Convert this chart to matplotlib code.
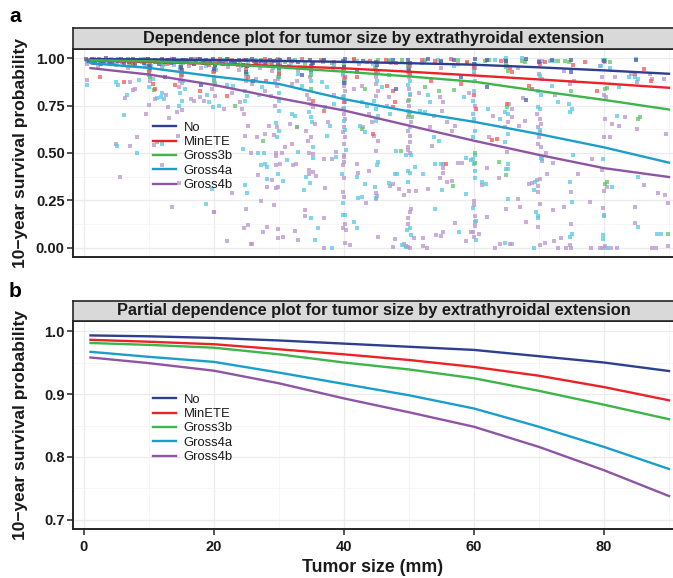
import matplotlib
matplotlib.use('Agg')
import matplotlib.pyplot as plt
from matplotlib.ticker import FixedLocator

plt.rcParams['font.family'] = ['Liberation Sans', 'DejaVu Sans']

# ---------------- data ----------------
groups = ['No', 'MinETE', 'Gross3b', 'Gross4a', 'Gross4b']
line_colors = ['#2e3f8f', '#ec2227', '#3db54a', '#1b9fca', '#8e55a3']
point_colors = ['#4a5fb0', '#f25a58', '#62c46a', '#58c9e3', '#b994cf']

size_grid = [1, 10, 20, 30, 40, 50, 60, 70, 80, 90]

# panel a: fitted dependence curves
dep_no = [0.997, 0.995, 0.992, 0.987, 0.982, 0.975, 0.967, 0.953, 0.937, 0.919]
dep_min = [0.990, 0.982, 0.972, 0.960, 0.948, 0.930, 0.910, 0.889, 0.868, 0.845]
dep_g3b = [0.990, 0.985, 0.972, 0.953, 0.930, 0.905, 0.877, 0.828, 0.781, 0.730]
dep_g4a = [0.975, 0.950, 0.905, 0.865, 0.785, 0.720, 0.665, 0.600, 0.530, 0.449]
dep_g4b = [0.949, 0.915, 0.860, 0.790, 0.725, 0.645, 0.565, 0.490, 0.420, 0.373]

# panel b: partial dependence curves
pdp_no = [0.993, 0.9916, 0.989, 0.985, 0.980, 0.975, 0.970, 0.960, 0.950, 0.9365]
pdp_min = [0.986, 0.983, 0.979, 0.971, 0.963, 0.954, 0.943, 0.929, 0.911, 0.890]
pdp_g3b = [0.981, 0.978, 0.9735, 0.963, 0.950, 0.939, 0.925, 0.905, 0.883, 0.860]
pdp_g4a = [0.967, 0.959, 0.951, 0.934, 0.916, 0.898, 0.877, 0.848, 0.816, 0.781]
pdp_g4b = [0.958, 0.949, 0.937, 0.917, 0.893, 0.871, 0.848, 0.816, 0.779, 0.738]

# panel a: individual patient predictions (tumor size, survival probability)
pts_no = [
    (0.3, 0.995), (0.8, 0.985), (1.2, 0.998), (1.7, 0.978), (2.1, 0.992), (2.6, 0.97), (3.0, 0.988),
    (3.4, 1.0), (3.9, 0.982), (4.3, 0.975), (4.8, 0.994), (5.2, 0.986), (5.7, 0.999), (6.1, 0.972),
    (6.6, 0.99), (7.0, 0.98), (7.5, 0.996), (7.9, 0.968), (8.4, 0.987), (8.8, 0.993), (9.3, 0.976),
    (9.8, 0.999), (10.0, 0.962), (10.1, 0.95), (10.2, 0.985), (11.0, 0.99), (11.5, 0.972), (12.0, 0.997),
    (12.4, 0.983), (12.9, 0.992), (13.4, 0.974), (13.8, 0.998), (14.3, 0.986), (14.8, 0.979), (15.0, 0.955),
    (15.1, 0.94), (15.2, 0.992), (15.9, 0.988), (16.4, 0.996), (16.9, 0.971), (17.3, 0.984), (17.8, 0.999),
    (18.3, 0.977), (18.8, 0.99), (19.4, 0.983), (19.9, 0.995), (20.0, 0.945), (20.1, 0.965), (20.8, 0.988),
    (21.4, 0.973), (22.0, 0.996), (22.6, 0.985), (23.2, 0.979), (23.8, 0.993), (24.4, 0.968), (24.9, 0.99),
    (25.0, 0.93), (25.1, 0.96), (25.8, 0.997), (26.5, 0.981), (27.2, 0.989), (27.9, 0.975), (28.6, 0.994),
    (29.3, 0.986), (29.9, 0.972), (30.0, 0.95), (30.1, 0.99), (31.5, 0.998), (33.0, 0.98), (34.8, 0.992),
    (35.0, 0.96), (35.2, 0.975), (37.0, 0.99), (39.8, 0.985), (40.0, 0.955), (40.2, 0.997), (43.0, 0.988),
    (45.0, 0.98), (45.1, 0.965), (47.5, 0.993), (49.9, 0.99), (50.0, 0.94), (50.1, 0.975), (53.0, 0.998),
    (55.0, 0.985), (57.0, 0.99), (60.0, 0.97), (60.1, 0.995), (62.0, 0.99), (65.0, 0.985), (68.0, 0.995),
    (70.0, 0.98), (72.0, 0.99), (75.0, 0.992), (80.0, 0.985), (85.0, 0.99),
    (12.5, 0.90), (18.0, 0.86), (26.0, 0.88), (33.5, 0.91), (40.0, 0.87), (42.0, 0.93), (48.0, 0.84),
    (58.0, 0.90), (62.0, 0.85), (68.0, 0.78), (75.0, 0.93),
]
pts_min = [
    (0.5, 0.99), (1.4, 0.975), (2.3, 0.996), (3.1, 0.984), (4.0, 0.969), (4.9, 0.993), (5.8, 0.98),
    (6.7, 0.998), (7.6, 0.973), (8.5, 0.988), (9.4, 0.995), (10.0, 0.93), (10.1, 0.965), (10.9, 0.982),
    (11.8, 0.992), (12.7, 0.97), (13.6, 0.997), (14.5, 0.979), (15.0, 0.948), (15.1, 0.91), (15.7, 0.99),
    (16.6, 0.974), (17.5, 0.995), (18.4, 0.983), (19.3, 0.966), (20.0, 0.935), (20.1, 0.985), (21.0, 0.997),
    (21.9, 0.977), (22.8, 0.99), (23.7, 0.968), (24.6, 0.994), (25.0, 0.945), (25.2, 0.90), (26.1, 0.985),
    (27.0, 0.973), (27.9, 0.998), (28.8, 0.982), (29.7, 0.99), (30.0, 0.92), (30.2, 0.96), (32.0, 0.985),
    (33.5, 0.995), (35.0, 0.94), (35.1, 0.975), (36.5, 0.99), (38.5, 0.982), (40.0, 0.95), (40.1, 0.90),
    (41.5, 0.995), (44.0, 0.985), (45.0, 0.93), (46.5, 0.99), (48.0, 0.975), (50.0, 0.96), (50.2, 0.92),
    (52.0, 0.99), (54.0, 0.985), (56.5, 0.995), (59.0, 0.98), (60.0, 0.95), (64.2, 0.988), (65.6, 0.949),
    (65.8, 0.926), (70.2, 0.970), (70.9, 0.979), (75.3, 0.967), (77.1, 0.979), (84.8, 0.917), (86.1, 0.944),
    (87.2, 0.88),
    (6.1, 0.874), (10.6, 0.864), (11.0, 0.841), (17.8, 0.826), (35.2, 0.776), (40.0, 0.768), (42.0, 0.900),
    (46.6, 0.856), (47.6, 0.826), (47.9, 0.768), (47.6, 0.741), (53.4, 0.882), (58.0, 0.864), (55.7, 0.44),
    (60.3, 0.732), (60.0, 0.809), (62.8, 0.569), (63.5, 0.574), (68.4, 0.856), (68.9, 0.838), (65.1, 0.76),
    (78.9, 0.826), (37.0, 0.72), (44.5, 0.60), (22.0, 0.80), (28.0, 0.88), (14.0, 0.86), (2.5, 0.90),
]
pts_g3b = [
    (0.7, 0.988), (1.6, 0.996), (2.5, 0.978), (3.4, 0.99), (4.4, 0.972), (5.3, 0.997), (6.2, 0.984),
    (7.1, 0.967), (8.0, 0.992), (9.0, 0.98), (9.9, 0.995), (10.0, 0.94), (10.2, 0.90), (11.3, 0.986),
    (12.2, 0.97), (13.1, 0.994), (14.0, 0.98), (14.9, 0.96), (15.0, 0.92), (15.3, 0.99), (16.2, 0.976),
    (17.1, 0.998), (18.0, 0.985), (18.9, 0.97), (19.8, 0.992), (20.0, 0.93), (20.2, 0.95), (21.3, 0.982),
    (22.2, 0.996), (23.1, 0.974), (24.0, 0.988), (24.9, 0.965), (25.0, 0.92), (25.3, 0.99), (26.3, 0.978),
    (27.2, 0.994), (28.1, 0.984), (29.0, 0.97), (29.9, 0.995), (30.0, 0.93), (31.0, 0.982), (32.5, 0.99),
    (34.0, 0.972), (34.9, 0.95), (35.0, 0.91), (36.8, 0.988), (38.2, 0.975), (39.9, 0.94), (40.0, 0.97),
    (41.5, 0.99), (43.5, 0.98), (45.0, 0.95), (45.2, 0.99), (47.0, 0.985), (49.0, 0.992), (49.9, 0.96),
    (50.0, 0.93), (52.5, 0.99), (55.0, 0.98), (57.5, 0.993), (59.0, 0.975), (60.0, 0.96), (61.7, 0.988),
    (62.3, 0.991), (65.0, 0.988), (65.0, 0.970), (64.9, 0.953), (65.3, 0.935), (67.4, 0.988), (67.9, 0.979),
    (72.9, 0.985), (74.0, 0.984), (74.6, 0.98), (80.1, 0.99), (81.0, 0.98),
    (10.7, 0.832), (23.2, 0.750), (27.6, 0.565), (32.8, 0.636), (43.3, 0.838), (42.8, 0.629), (50.0, 0.78),
    (50.0, 0.70), (50.4, 0.69), (52.5, 0.850), (54.6, 0.826), (56.9, 0.832), (56.7, 0.325), (48.7, 0.510),
    (60.2, 0.449), (60.2, 0.498), (63.9, 0.454), (64.9, 0.382), (65.1, 0.741), (74.9, 0.83), (80.2, 0.838),
    (80.5, 0.843), (80.1, 0.338), (80.4, 0.347), (85.3, 0.680), (85.6, 0.688), (89.9, 0.070), (35.0, 0.84),
    (20.0, 0.88), (30.0, 0.90), (40.0, 0.88), (47.0, 0.91),
]
pts_g4a = [
    (0.5, 0.98), (1.5, 0.992), (2.4, 0.97), (3.3, 0.986), (4.2, 0.996), (5.1, 0.975), (6.0, 0.99),
    (6.9, 0.96), (7.8, 0.984), (8.7, 0.995), (9.6, 0.972), (10.0, 0.92), (10.1, 0.90), (10.3, 0.96),
    (11.2, 0.988), (12.1, 0.965), (13.0, 0.992), (13.9, 0.978), (14.8, 0.955), (15.0, 0.91), (15.2, 0.88),
    (16.0, 0.985), (16.9, 0.97), (17.8, 0.993), (18.7, 0.96), (19.6, 0.98), (20.0, 0.90), (20.1, 0.87),
    (20.3, 0.94), (21.4, 0.99), (22.3, 0.972), (23.2, 0.985), (24.1, 0.958), (25.0, 0.89), (25.1, 0.92),
    (25.3, 0.975), (26.4, 0.99), (27.3, 0.966), (28.2, 0.982), (29.1, 0.95), (29.9, 0.90), (30.0, 0.93),
    (30.2, 0.99), (31.8, 0.975), (33.2, 0.955), (34.9, 0.93), (35.0, 0.88), (35.1, 0.97), (37.0, 0.99),
    (38.5, 0.96), (39.9, 0.92), (40.0, 0.95), (40.1, 0.89), (42.0, 0.985), (44.5, 0.97), (45.0, 0.92),
    (45.1, 0.88), (47.0, 0.99), (49.9, 0.95), (50.0, 0.91), (50.1, 0.88), (52.0, 0.975), (54.5, 0.99),
    (57.0, 0.96), (60.0, 0.93), (60.1, 0.97), (63.2, 0.99), (64.8, 0.99), (65.1, 0.96), (65.0, 1.0),
    (67.4, 1.0), (71.7, 0.984), (72.3, 0.988), (79.9, 0.99), (85.0, 0.996),
    (0.5, 0.861), (5.0, 0.874), (5.3, 0.861), (6.6, 0.809), (8.5, 0.885), (10.0, 0.850), (10.6, 0.891),
    (12.0, 0.817), (12.3, 0.785), (11.3, 0.79), (11.8, 0.795), (14.8, 0.817), (15.1, 0.773), (14.6, 0.747),
    (15.6, 0.838), (18.9, 0.809), (19.2, 0.768), (19.9, 0.741), (20.7, 0.750), (22.0, 0.861), (23.0, 0.856),
    (24.8, 0.826), (25.1, 0.803), (24.7, 0.776), (26.9, 0.809), (27.4, 0.847), (30.0, 0.817), (30.0, 0.773),
    (30.0, 0.720), (29.5, 0.658), (30.0, 0.617), (29.7, 0.583), (32.0, 0.706), (32.5, 0.697), (33.0, 0.917),
    (33.5, 0.856), (34.6, 0.715), (34.9, 0.688), (35.1, 0.662), (35.3, 0.530), (36.6, 0.874), (37.4, 0.847),
    (37.1, 0.741), (38.4, 0.759), (37.9, 0.644), (37.4, 0.591), (40.0, 0.80), (40.0, 0.74), (40.0, 0.67),
    (40.2, 0.62), (42.8, 0.768), (43.5, 0.750), (42.5, 0.644), (43.3, 0.609), (44.6, 0.776), (44.9, 0.732),
    (45.2, 0.697), (45.0, 0.671), (45.8, 0.847), (47.1, 0.706), (49.8, 0.86), (50.2, 0.81), (49.9, 0.72),
    (50.1, 0.64), (53.0, 0.809), (53.3, 0.768), (51.7, 0.720), (52.5, 0.715), (53.8, 0.583), (54.6, 0.565),
    (58.4, 0.794), (60.0, 0.680), (59.8, 0.706), (60.1, 0.618), (59.9, 0.583), (60.2, 0.882), (60.0, 0.826),
    (59.8, 0.776), (62.2, 0.732), (64.8, 0.715), (65.3, 0.706), (65.3, 0.600), (64.8, 0.556), (64.0, 0.680),
    (70.5, 0.891), (70.2, 0.909), (69.9, 0.826), (70.3, 0.809), (69.9, 0.741), (70.2, 0.732), (70.1, 0.62),
    (72.0, 0.856), (72.9, 0.768), (74.6, 0.759), (75.1, 0.732), (74.8, 0.715), (82.3, 0.850), (82.0, 0.697),
    (83.8, 0.904), (84.7, 0.900), (85.3, 0.891), (80.0, 0.99), (79.5, 0.96), (81.0, 0.95),
    (8.2, 0.498), (19.7, 0.308), (18.8, 0.232), (24.7, 0.331), (25.1, 0.290), (26.7, 0.498), (27.7, 0.498),
    (27.8, 0.440), (27.3, 0.436), (28.2, 0.428), (28.2, 0.361), (32.9, 0.505), (35.2, 0.472), (38.7, 0.479),
    (40.3, 0.516), (48.0, 0.510), (49.6, 0.488), (50.3, 0.488), (31.3, 0.463), (29.9, 0.387), (30.6, 0.352),
    (34.2, 0.373), (34.8, 0.343), (33.9, 0.304), (39.7, 0.387), (42.0, 0.371), (45.1, 0.436), (45.2, 0.454),
    (43.3, 0.338), (44.7, 0.320), (39.8, 0.234), (42.2, 0.260), (42.8, 0.267), (45.0, 0.26), (47.0, 0.340),
    (47.9, 0.391), (48.1, 0.391), (49.8, 0.347), (49.8, 0.405), (50.1, 0.396), (50.9, 0.428), (52.1, 0.387),
    (54.0, 0.440), (55.0, 0.44), (55.2, 0.44), (55.1, 0.303), (59.6, 0.463), (58.8, 0.472), (58.8, 0.282),
    (34.9, 0.155), (39.8, 0.172), (40.1, 0.172), (41.6, 0.137), (42.0, 0.106), (36.0, 0.106), (35.6, 0.039),
    (38.1, 0.0), (49.0, 0.014), (49.5, 0.005), (49.7, 0.091), (50.1, 0.102), (50.3, 0.065), (54.0, 0.206),
    (57.7, 0.082), (65.3, 0.440), (65.0, 0.414), (65.3, 0.414), (60.2, 0.405), (60.2, 0.370), (60.0, 0.440),
    (60.2, 0.488), (59.8, 0.466), (61.2, 0.349), (61.8, 0.338), (69.4, 0.349), (69.2, 0.303), (70.3, 0.475),
    (70.4, 0.466), (75.2, 0.488), (74.8, 0.349), (79.8, 0.466), (81.2, 0.320), (85.2, 0.375), (59.9, 0.208),
    (60.3, 0.14), (65.3, 0.255), (69.6, 0.188), (69.8, 0.167), (69.9, 0.158), (75.1, 0.241), (80.0, 0.167),
    (85.2, 0.111), (88.2, 0.070), (88.8, 0.070), (60.3, 0.040), (64.7, 0.026), (69.3, 0.0), (74.8, 0.058),
    (75.1, 0.070), (80.4, 0.0), (79.9, 0.065), (79.8, 0.044), (5.1, 0.539), (12.0, 0.55), (24.5, 0.52),
    (6.2, 0.699),
]
pts_g4b = [
    (0.4, 0.97), (1.3, 0.99), (2.2, 0.96), (3.1, 0.982), (4.0, 0.994), (4.9, 0.965), (5.8, 0.985),
    (6.7, 0.95), (7.6, 0.975), (8.5, 0.99), (9.4, 0.958), (10.0, 0.91), (10.1, 0.88), (10.2, 0.94),
    (11.1, 0.98), (12.0, 0.955), (12.9, 0.99), (13.8, 0.968), (14.7, 0.945), (15.0, 0.90), (15.1, 0.87),
    (15.3, 0.975), (16.2, 0.96), (17.1, 0.985), (18.0, 0.95), (18.9, 0.972), (19.8, 0.93), (20.0, 0.89),
    (20.1, 0.86), (20.2, 0.96), (21.2, 0.98), (22.1, 0.955), (23.0, 0.975), (23.9, 0.94), (24.9, 0.88),
    (25.0, 0.91), (25.1, 0.96), (26.2, 0.985), (27.1, 0.95), (28.0, 0.97), (28.9, 0.935), (29.9, 0.89),
    (30.0, 0.92), (30.1, 0.975), (31.6, 0.96), (33.0, 0.94), (34.8, 0.90), (35.0, 0.93), (35.1, 0.96),
    (36.7, 0.98), (38.3, 0.95), (39.9, 0.91), (40.0, 0.94), (40.2, 0.87), (42.3, 0.97), (44.8, 0.95),
    (45.0, 0.90), (45.2, 0.93), (47.2, 0.975), (49.8, 0.93), (50.0, 0.90), (50.2, 0.96), (52.3, 0.98),
    (55.0, 0.95), (57.5, 0.97), (60.0, 0.92), (60.2, 0.95), (66.8, 0.95), (70.0, 0.985), (70.5, 0.985),
    (73.8, 0.932), (79.4, 0.961), (80.1, 0.979),
    (0.5, 0.887), (6.3, 0.791), (7.1, 0.874), (7.9, 0.838), (7.6, 0.832), (9.95, 0.756), (10.9, 0.785),
    (12.6, 0.806), (13.0, 0.741), (14.8, 0.882), (14.6, 0.850), (14.3, 0.715), (15.1, 0.727), (16.5, 0.785),
    (16.9, 0.776), (17.9, 0.794), (18.4, 0.776), (19.7, 0.838), (20.2, 0.803), (21.5, 0.732), (22.8, 0.817),
    (24.0, 0.768), (24.3, 0.732), (24.6, 0.706), (25.8, 0.864), (26.4, 0.891), (27.9, 0.826), (28.7, 0.803),
    (25.3, 0.644), (24.8, 0.591), (27.9, 0.600), (28.4, 0.644), (26.6, 0.583), (8.2, 0.586), (7.1, 0.539),
    (11.2, 0.56), (10.7, 0.54), (14.5, 0.591), (29.4, 0.882), (29.7, 0.856), (29.4, 0.750), (29.7, 0.636),
    (29.2, 0.597), (31.0, 0.533), (32.0, 0.547), (31.7, 0.653), (32.8, 0.636), (32.0, 0.864), (32.8, 0.882),
    (34.3, 0.809), (34.6, 0.785), (35.0, 0.759), (35.3, 0.741), (35.5, 0.653), (34.2, 0.618), (34.9, 0.586),
    (34.4, 0.565), (38.4, 0.809), (37.6, 0.662), (40.0, 0.891), (40.0, 0.856), (40.2, 0.826), (39.9, 0.794),
    (40.1, 0.768), (39.8, 0.732), (40.0, 0.706), (40.1, 0.680), (40.0, 0.636), (39.8, 0.609), (40.2, 0.583),
    (40.0, 0.547), (41.5, 0.838), (42.7, 0.856), (43.8, 0.706), (44.3, 0.662), (43.0, 0.636), (45.0, 0.864),
    (45.3, 0.826), (44.9, 0.803), (44.6, 0.591), (45.3, 0.565), (46.9, 0.794), (46.6, 0.750), (50.0, 0.838),
    (50.1, 0.809), (49.9, 0.776), (50.0, 0.750), (50.2, 0.715), (49.9, 0.688), (50.3, 0.662), (49.8, 0.618),
    (50.1, 0.591), (50.2, 0.559), (49.9, 0.530), (51.5, 0.817), (53.8, 0.697), (53.3, 0.636), (53.5, 0.539),
    (54.8, 0.794), (55.3, 0.768), (55.1, 0.720), (55.8, 0.662), (56.6, 0.618), (57.1, 0.644), (59.2, 0.817),
    (60.1, 0.75), (62.3, 0.583), (63.0, 0.697), (65.8, 0.688), (65.8, 0.732), (65.4, 0.759), (64.8, 0.636),
    (65.3, 0.662), (67.9, 0.671), (66.9, 0.644), (67.5, 0.791), (70.0, 0.92), (69.7, 0.706), (70.1, 0.680),
    (70.3, 0.653), (69.9, 0.636), (70.2, 0.609), (70.0, 0.583), (69.9, 0.547), (70.3, 0.530), (72.5, 0.809),
    (74.8, 0.864), (75.4, 0.88), (79.7, 0.900), (80.0, 0.809), (80.3, 0.794), (80.2, 0.680), (81.2, 0.653),
    (82.3, 0.644), (81.0, 0.583), (80.0, 0.583), (81.7, 0.900), (84.1, 0.917), (85.1, 0.874), (83.3, 0.688),
    (85.1, 0.627), (87.4, 0.891), (87.1, 0.917), (89.2, 0.891), (89.5, 0.60), (9.5, 0.704), (13.1, 0.687),
    (12.0, 0.436), (5.6, 0.375), (14.6, 0.343), (13.5, 0.214), (20.0, 0.188), (22.7, 0.290), (25.7, 0.498),
    (26.7, 0.384), (28.1, 0.320), (27.3, 0.246), (25.0, 0.202), (24.6, 0.102), (25.3, 0.118), (28.1, 0.111),
    (27.6, 0.082), (22.0, 0.035), (25.9, 0.017), (29.5, 0.502), (30.4, 0.502), (34.6, 0.50), (35.2, 0.494),
    (38.8, 0.505), (40.0, 0.489), (40.0, 0.481), (44.9, 0.512), (49.9, 0.516), (50.1, 0.498), (29.5, 0.484),
    (30.1, 0.440), (29.6, 0.436), (32.1, 0.436), (32.6, 0.444), (36.9, 0.466), (38.2, 0.466), (40.0, 0.452),
    (39.8, 0.436), (34.6, 0.410), (34.6, 0.391), (35.2, 0.399), (29.0, 0.356), (35.7, 0.378), (29.8, 0.322),
    (29.5, 0.317), (37.1, 0.317), (40.0, 0.366), (42.2, 0.392), (43.8, 0.405), (42.0, 0.444), (39.8, 0.294),
    (40.0, 0.269), (43.4, 0.234), (45.0, 0.287), (45.1, 0.273), (45.0, 0.255), (47.1, 0.325), (47.6, 0.334),
    (48.4, 0.308), (49.2, 0.278), (50.0, 0.299), (51.1, 0.299), (53.0, 0.312), (55.2, 0.419), (55.2, 0.392),
    (54.8, 0.366), (55.8, 0.349), (56.6, 0.352), (57.6, 0.449), (58.2, 0.449), (29.2, 0.225), (34.0, 0.199),
    (34.0, 0.167), (36.9, 0.155), (40.1, 0.123), (39.8, 0.106), (40.3, 0.093), (29.8, 0.097), (29.8, 0.048),
    (30.6, 0.058), (32.4, 0.090), (32.9, 0.039), (37.0, 0.0), (40.1, 0.026), (40.9, 0.014), (45.2, 0.056),
    (47.5, 0.005), (47.9, 0.044), (49.2, 0.02), (49.5, 0.01), (49.9, 0.003), (50.1, 0.0), (49.9, 0.155),
    (49.8, 0.123), (50.1, 0.190), (50.3, 0.206), (50.7, 0.053), (52.2, 0.048), (52.2, 0.008), (52.8, 0.0),
    (54.2, 0.065), (55.0, 0.061), (55.3, 0.082), (57.1, 0.132), (58.8, 0.035), (59.5, 0.082), (63.9, 0.370),
    (65.1, 0.505), (62.0, 0.419), (61.2, 0.329), (68.5, 0.338), (68.9, 0.343), (69.7, 0.357), (70.1, 0.364),
    (69.9, 0.325), (69.8, 0.296), (71.1, 0.502), (70.5, 0.458), (72.2, 0.449), (71.3, 0.387), (78.2, 0.466),
    (76.0, 0.387), (75.0, 0.296), (79.7, 0.410), (80.4, 0.320), (80.0, 0.299), (86.2, 0.329), (88.3, 0.290),
    (89.4, 0.278), (89.9, 0.238), (60.0, 0.246), (60.0, 0.223), (60.2, 0.167), (60.2, 0.137), (60.2, 0.114),
    (62.0, 0.164), (66.7, 0.255), (64.9, 0.206), (67.1, 0.217), (68.0, 0.135), (70.2, 0.229), (69.9, 0.111),
    (72.2, 0.197), (73.9, 0.217), (77.9, 0.243), (79.9, 0.208), (80.0, 0.172), (84.8, 0.214), (84.7, 0.128),
    (87.4, 0.0), (59.8, 0.082), (60.0, 0.058), (60.8, 0.070), (63.2, 0.0), (64.0, 0.017), (65.6, 0.021),
    (65.9, 0.021), (70.2, 0.012), (70.9, 0.026), (72.3, 0.035), (73.4, 0.049), (72.9, 0.0), (74.2, 0.0),
    (74.7, 0.012), (75.0, 0.0), (75.0, 0.123), (78.0, 0.0), (79.4, 0.0), (79.8, 0.0), (80.2, 0.01),
    (81.1, 0.0), (82.0, 0.0), (88.0, 0.0), (89.8, 0.01), (4.9, 0.546), (25.7, 0.021), (20.0, 0.19),
]

strip_a = 'Dependence plot for tumor size by extrathyroidal extension'
strip_b = 'Partial dependence plot for tumor size by extrathyroidal extension'
ylab = '10\u2212year survival probability'
xlab = 'Tumor size (mm)'
x_ticks = [0, 20, 40, 60, 80]
ya_ticks = [0.0, 0.25, 0.5, 0.75, 1.0]
ya_labels = ['0.00', '0.25', '0.50', '0.75', '1.00']
yb_ticks = [0.7, 0.8, 0.9, 1.0]
yb_labels = ['0.7', '0.8', '0.9', '1.0']

# ---------------- layout ----------------
W, H = 673, 578
fig = plt.figure(figsize=(W / 100, H / 100), dpi=100)
fig.patch.set_facecolor('white')

def px_axes(left, top, right, bottom):
    return fig.add_axes([left / W, 1 - bottom / H, (right - left) / W, (bottom - top) / H])

axA = px_axes(73, 49, 674, 257)
stripA = px_axes(73, 28, 674, 49)
axB = px_axes(73, 321, 674, 529)
stripB = px_axes(73, 301, 674, 321)

XLIM = (-1.69, 90.77)
dark = '#262626'

for strip, title in [(stripA, strip_a), (stripB, strip_b)]:
    strip.set_facecolor('#d9d9d9')
    strip.set_xticks([]); strip.set_yticks([])
    for sp in strip.spines.values():
        sp.set_color(dark); sp.set_linewidth(1.2)
    strip.text(0.5, 0.5, title, transform=strip.transAxes, ha='center', va='center',
               fontsize=11.8, fontweight='bold', color='#1a1a1a')

def style_axes(ax, ylim, yticks, ylabels, minor_y, show_x):
    ax.set_xlim(*XLIM)
    ax.set_ylim(*ylim)
    ax.set_facecolor('white')
    ax.xaxis.set_major_locator(FixedLocator(x_ticks))
    ax.xaxis.set_minor_locator(FixedLocator([10, 30, 50, 70, 90]))
    ax.yaxis.set_major_locator(FixedLocator(yticks))
    ax.yaxis.set_minor_locator(FixedLocator(minor_y))
    ax.set_yticklabels(ylabels)
    ax.grid(which='major', color='#ebebeb', linewidth=0.9)
    ax.grid(which='minor', color='#f3f3f3', linewidth=0.5)
    ax.set_axisbelow(True)
    for sp in ax.spines.values():
        sp.set_color(dark); sp.set_linewidth(1.4)
    ax.tick_params(axis='y', which='major', direction='out', length=4.5, width=1.1, color=dark,
                   pad=1.5, labelsize=10.5, labelcolor='#1a1a1a')
    ax.tick_params(which='minor', length=0)
    for lab in ax.get_yticklabels():
        lab.set_fontweight('bold')
    if show_x:
        ax.set_xticklabels([str(t) for t in x_ticks])
        ax.tick_params(axis='x', which='major', direction='out', length=4.5, width=1.1, color=dark,
                       pad=3.5, labelsize=10.5, labelcolor='#1a1a1a')
        for lab in ax.get_xticklabels():
            lab.set_fontweight('bold')
    else:
        ax.tick_params(axis='x', which='major', length=0, labelbottom=False)

style_axes(axA, (-0.05, 1.05), ya_ticks, ya_labels, [0.125, 0.375, 0.625, 0.875], False)
style_axes(axB, (0.6857, 1.0159), yb_ticks, yb_labels, [0.75, 0.85, 0.95], True)

# points (panel a)
all_pts = [pts_no, pts_min, pts_g3b, pts_g4a, pts_g4b]
for idx in [4, 3, 2, 1, 0]:
    xs, ys = zip(*all_pts[idx])
    axA.scatter(xs, ys, s=5.0, marker='s', color=point_colors[idx], alpha=0.75,
                linewidths=0, zorder=2)

dep_curves = [dep_no, dep_min, dep_g3b, dep_g4a, dep_g4b]
pdp_curves = [pdp_no, pdp_min, pdp_g3b, pdp_g4a, pdp_g4b]
for ax, curves in [(axA, dep_curves), (axB, pdp_curves)]:
    handles = []
    for name, col, vals in zip(groups, line_colors, curves):
        h, = ax.plot(size_grid, vals, color=col, linewidth=1.7, zorder=3, label=name,
                     solid_joinstyle='round')
        handles.append(h)
    leg = ax.legend(handles=handles, loc='upper left', bbox_to_anchor=(0.133, 0.651),
                    frameon=False, fontsize=9.4, handlelength=1.75, handletextpad=0.6,
                    labelspacing=0.17, borderpad=0, borderaxespad=0)
    for t in leg.get_texts():
        t.set_color('#1a1a1a')

# panel letters and axis titles
fig.text(15 / W, 1 - 16 / H, 'a', fontsize=15, fontweight='bold', ha='center', va='center')
fig.text(15 / W, 1 - 291 / H, 'b', fontsize=15, fontweight='bold', ha='center', va='center')
fig.text(21 / W, 1 - 153 / H, ylab, rotation=90, fontsize=12.5, fontweight='bold',
         ha='center', va='center', color='#1a1a1a')
fig.text(21 / W, 1 - 425 / H, ylab, rotation=90, fontsize=12.5, fontweight='bold',
         ha='center', va='center', color='#1a1a1a')
fig.text(373 / W, 1 - 568 / H, xlab, fontsize=12.8, fontweight='bold',
         ha='center', va='center', color='#1a1a1a')

fig.savefig('out.png', dpi=100, facecolor='white')
